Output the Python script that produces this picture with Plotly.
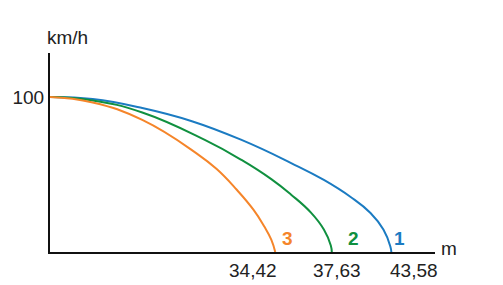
import plotly.graph_objects as go

# Speed (km/h) vs. braking distance, schematic distance axis
x1 = [0, 43, 93, 143, 193, 243, 276, 303, 323, 336, 343, 344]
v1 = [100, 98.7, 92.9, 84.4, 72.3, 57.4, 46.5, 35.5, 25.2, 14.5, 3.6, 0]
x2 = [0, 43, 93, 156, 193, 223, 243, 263, 276, 283, 284]
v2 = [100, 97.8, 90.0, 72.3, 59.4, 47.0, 37.0, 25.4, 14.5, 4.2, 0]
x3 = [0, 43, 93, 148, 168, 188, 205, 216, 223, 227]
v3 = [100, 96.5, 85.2, 63.5, 53.5, 40.3, 27.3, 16.4, 8.0, 0]

curve_names = ["1", "2", "3"]
colors = ["#1b7bc2", "#10903f", "#f5852a"]
stop_labels = ["43,58", "37,63", "34,42"]
y_tick_vals = [100]
y_tick_text = ["100"]

FONT = "Arial"
TXT = "#222222"
FS = 19

fig = go.Figure()
for xs, vs, name, c in zip([x1, x2, x3], [v1, v2, v3], curve_names, colors):
    fig.add_trace(go.Scatter(x=xs, y=vs, mode="lines", name=name,
                             line=dict(color=c, width=2, shape="spline", smoothing=1.3),
                             hoverinfo="skip", showlegend=False))

# curve number labels (paper coords)
num_pos = [0.907, 0.789, 0.616]
for name, c, px in zip(curve_names, colors, num_pos):
    fig.add_annotation(xref="paper", yref="paper", x=px, y=0.07,
                       text="<b>" + name + "</b>", showarrow=False,
                       font=dict(family=FONT, size=FS, color=c),
                       xanchor="center", yanchor="middle")

# stop distance labels under the axis
lab_pos = [0.946, 0.745, 0.528]
for lab, px in zip(stop_labels, lab_pos):
    fig.add_annotation(xref="paper", yref="paper", x=px, y=-0.095, text=lab,
                       showarrow=False, font=dict(family=FONT, size=FS, color=TXT),
                       xanchor="center", yanchor="middle")

fig.add_annotation(xref="paper", yref="paper", x=0.046, y=1.08, text="km/h",
                   showarrow=False, font=dict(family=FONT, size=FS, color=TXT),
                   xanchor="center", yanchor="middle")
fig.add_annotation(xref="paper", yref="paper", x=1.036, y=0.02, text="m",
                   showarrow=False, font=dict(family=FONT, size=FS, color=TXT),
                   xanchor="center", yanchor="middle")

fig.update_layout(
    width=503, height=285,
    margin=dict(l=47, r=68, t=53, b=33),
    paper_bgcolor="white", plot_bgcolor="white",
    font=dict(family=FONT, color=TXT),
    xaxis=dict(range=[0, 388], showgrid=False, zeroline=False, showline=True,
               linecolor="#111111", linewidth=2, showticklabels=False, ticks=""),
    yaxis=dict(range=[0, 128.4], showgrid=False, zeroline=False, showline=True,
               linecolor="#111111", linewidth=2, tickvals=y_tick_vals, ticktext=y_tick_text,
               ticks="", tickfont=dict(family=FONT, size=FS, color=TXT)),
)

fig.write_html("out.html")
